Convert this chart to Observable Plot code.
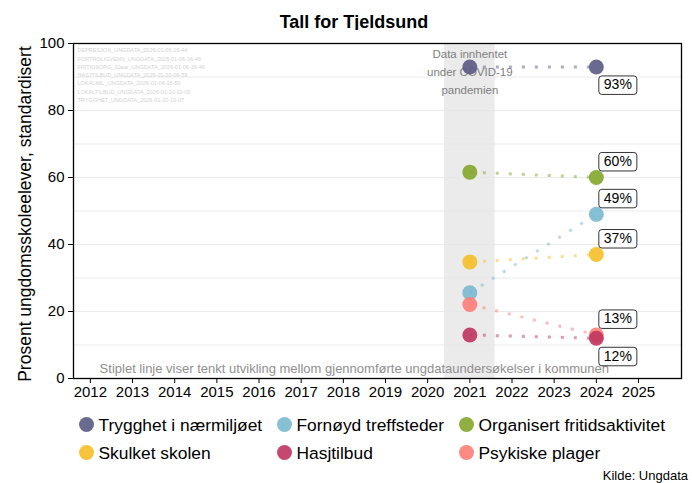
<!DOCTYPE html>
<html><head><meta charset="utf-8">
<script src="https://cdn.jsdelivr.net/npm/d3@7"></script>
<script src="https://cdn.jsdelivr.net/npm/@observablehq/plot@0.6"></script>
<style>
body{margin:0;background:#fff;font-family:"Liberation Sans",Arial,sans-serif;color:#000;}
#wrap{position:relative;width:692px;height:483px;overflow:hidden;background:#fff;}
#title{position:absolute;left:0;width:708px;top:13px;text-align:center;font-weight:bold;font-size:18px;line-height:18px;}
#chart{position:absolute;left:0;top:30px;}
#ylab{position:absolute;left:-175px;top:203px;width:400px;height:22px;line-height:22px;text-align:center;font-size:17.5px;transform:rotate(-90deg);transform-origin:200px 11px;}
.leg{position:absolute;font-size:17.4px;line-height:20px;white-space:nowrap;}
.leg .c{position:absolute;width:15px;height:15px;border-radius:50%;top:2px;}
#caption{position:absolute;right:4px;top:468px;font-size:13px;line-height:15px;}
</style></head>
<body><div id="wrap">
<div id="title">Tall for Tjeldsund</div>
<div id="chart"></div>
<div id="ylab">Prosent ungdomsskoleelever, standardisert</div>
<div id="legend"></div>
<div id="caption">Kilde: Ungdata</div>
</div>
<script>
const series = ["Trygghet i nærmiljøet","Fornøyd treffsteder","Organisert fritidsaktivitet","Skulket skolen","Hasjtilbud","Psykiske plager"];
const colors = ["#5a5a85","#7ab8cf","#84a62c","#f6bf26","#c0345f","#fe7d77"];
const yearFrom = 2021;
const yearTo = 2024;
const values2021 = [93, 25.6, 61.6, 34.8, 13.0, 22.1];
const values2024 = [93, 49, 60, 37, 12, 13];
const labelsBelow = ["Trygghet i nærmiljøet","Hasjtilbud"];
const drawOrder = ["Trygghet i nærmiljøet","Fornøyd treffsteder","Organisert fritidsaktivitet","Skulket skolen","Psykiske plager","Hasjtilbud"];
const xTicks = [2012,2013,2014,2015,2016,2017,2018,2019,2020,2021,2022,2023,2024,2025];
const yTicks = [0,20,40,60,80,100];
const gridY = [10,20,30,40,50,60,70,80,90];
const covidBand = [2020.4, 2021.6];
const covidNote = "Data innhentet\nunder COVID-19\npandemien";
const covidNotePos = [2021, 92];
const bottomNote = "Stiplet linje viser tenkt utvikling mellom gjennomførte ungdataundersøkelser i kommunen";
const bottomNotePos = [2018.26, 2.8];
const sourceFiles = [
  "DEPRESJON_UNGDATA_2026-01-06-16-44",
  "FORTROLIGVENN_UNGDATA_2026-01-06-16-46",
  "FRITIDSORG_10aar_UNGDATA_2026-01-06-16-46",
  "HASJTILBUD_UNGDATA_2026-01-20-09-59",
  "LOKALMIL_UNGDATA_2026-01-06-16-50",
  "LOKALTILBUD_UNGDATA_2026-01-20-10-00",
  "TRYGGHET_UNGDATA_2026-01-20-10-07"
];

const rows = drawOrder.map(s => {
  const i = series.indexOf(s);
  return {series: s, v1: values2021[i], v2: values2024[i]};
});
const points = [];
for (const r of rows) {
  points.push({series: r.series, year: yearFrom, value: r.v1});
  points.push({series: r.series, year: yearTo, value: r.v2});
}
const endPoints = points.filter(d => d.year === yearTo);

const plot = Plot.plot({
  width: 692, height: 370,
  marginTop: 13, marginBottom: 22, marginLeft: 73, marginRight: 11,
  x: {domain: [2011.6, 2026.02]},
  y: {domain: [0, 100]},
  color: {domain: series, range: colors},
  style: {fontFamily: "Liberation Sans, Arial, sans-serif", fontSize: "15px", color: "#000", background: "#fff", overflow: "visible"},
  marks: [
    Plot.rect([covidBand], {x1: d => d[0], x2: d => d[1], fill: "#ebebeb"}),
    Plot.ruleY(gridY, {stroke: "#e6e6e6", strokeWidth: 0.8}),
    Plot.text([sourceFiles.join("\n")], {text: d => d, frameAnchor: "top-left", textAnchor: "start", lineAnchor: "top", dx: 4, dy: 3, fontSize: 5.5, lineHeight: 1.5, fill: "#d2d2d2"}),
    Plot.text([covidNote], {x: () => covidNotePos[0], y: () => covidNotePos[1], text: d => d, fontSize: 11.5, lineHeight: 1.56, fill: "#808080", lineAnchor: "middle"}),
    Plot.text([bottomNote], {x: () => bottomNotePos[0], y: () => bottomNotePos[1], text: d => d, fontSize: 13, fill: "#8f8f8f"}),
    Plot.link(rows, {x1: () => yearFrom, y1: "v1", x2: () => yearTo, y2: "v2", stroke: "series", strokeDasharray: "3,10", strokeWidth: 3, strokeOpacity: 0.5}),
    Plot.dot(points, {x: "year", y: "value", fill: "series", r: 7.5, fillOpacity: 0.9, stroke: "none"}),
    Plot.text(endPoints.filter(d => !labelsBelow.includes(d.series)), {x: "year", y: "value", text: d => Math.round(d.value) + "%", dx: 21.5, dy: -16, fontSize: 14, fill: "#000"}),
    Plot.text(endPoints.filter(d => labelsBelow.includes(d.series)), {x: "year", y: "value", text: d => Math.round(d.value) + "%", dx: 21.5, dy: 18, fontSize: 14, fill: "#000"}),
    Plot.frame({stroke: "#000", strokeWidth: 1.3}),
    Plot.axisX({ticks: xTicks, tickFormat: d => String(d), tickSize: 5, tickPadding: 3, label: null, fontSize: 15}),
    Plot.axisY({ticks: yTicks, tickSize: 5, tickPadding: 4, label: null, fontSize: 15})
  ]
});
document.getElementById("chart").append(plot);

// white boxes behind value labels
plot.querySelectorAll("text").forEach(t => {
  if (!/^\d+%$/.test(t.textContent)) return;
  const b = t.getBBox();
  const r = document.createElementNS("http://www.w3.org/2000/svg", "rect");
  r.setAttribute("x", b.x - 5);
  r.setAttribute("y", b.y - 0.5);
  r.setAttribute("width", b.width + 10);
  r.setAttribute("height", b.height + 2.5);
  r.setAttribute("rx", 3);
  r.setAttribute("fill", "#fff");
  r.setAttribute("fill-opacity", 1);
  r.setAttribute("stroke", "#000");
  r.setAttribute("stroke-width", 0.8);
  if (t.getAttribute("transform")) r.setAttribute("transform", t.getAttribute("transform"));
  t.parentNode.insertBefore(r, t);
});

// legend
const legendPos = [[86, 415],[284, 415],[466, 415],[86, 443],[284, 443],[466, 443]];
const legend = document.getElementById("legend");
series.forEach((s, i) => {
  const d = document.createElement("div");
  d.className = "leg";
  d.style.left = (legendPos[i][0] - 7.5) + "px";
  d.style.top = legendPos[i][1] + "px";
  d.style.paddingLeft = "20px";
  const c = document.createElement("span");
  c.className = "c";
  c.style.left = "0px";
  c.style.background = colors[i];
  c.style.opacity = 0.9;
  d.appendChild(c);
  d.appendChild(document.createTextNode(s));
  legend.appendChild(d);
});
</script>
</body></html>
